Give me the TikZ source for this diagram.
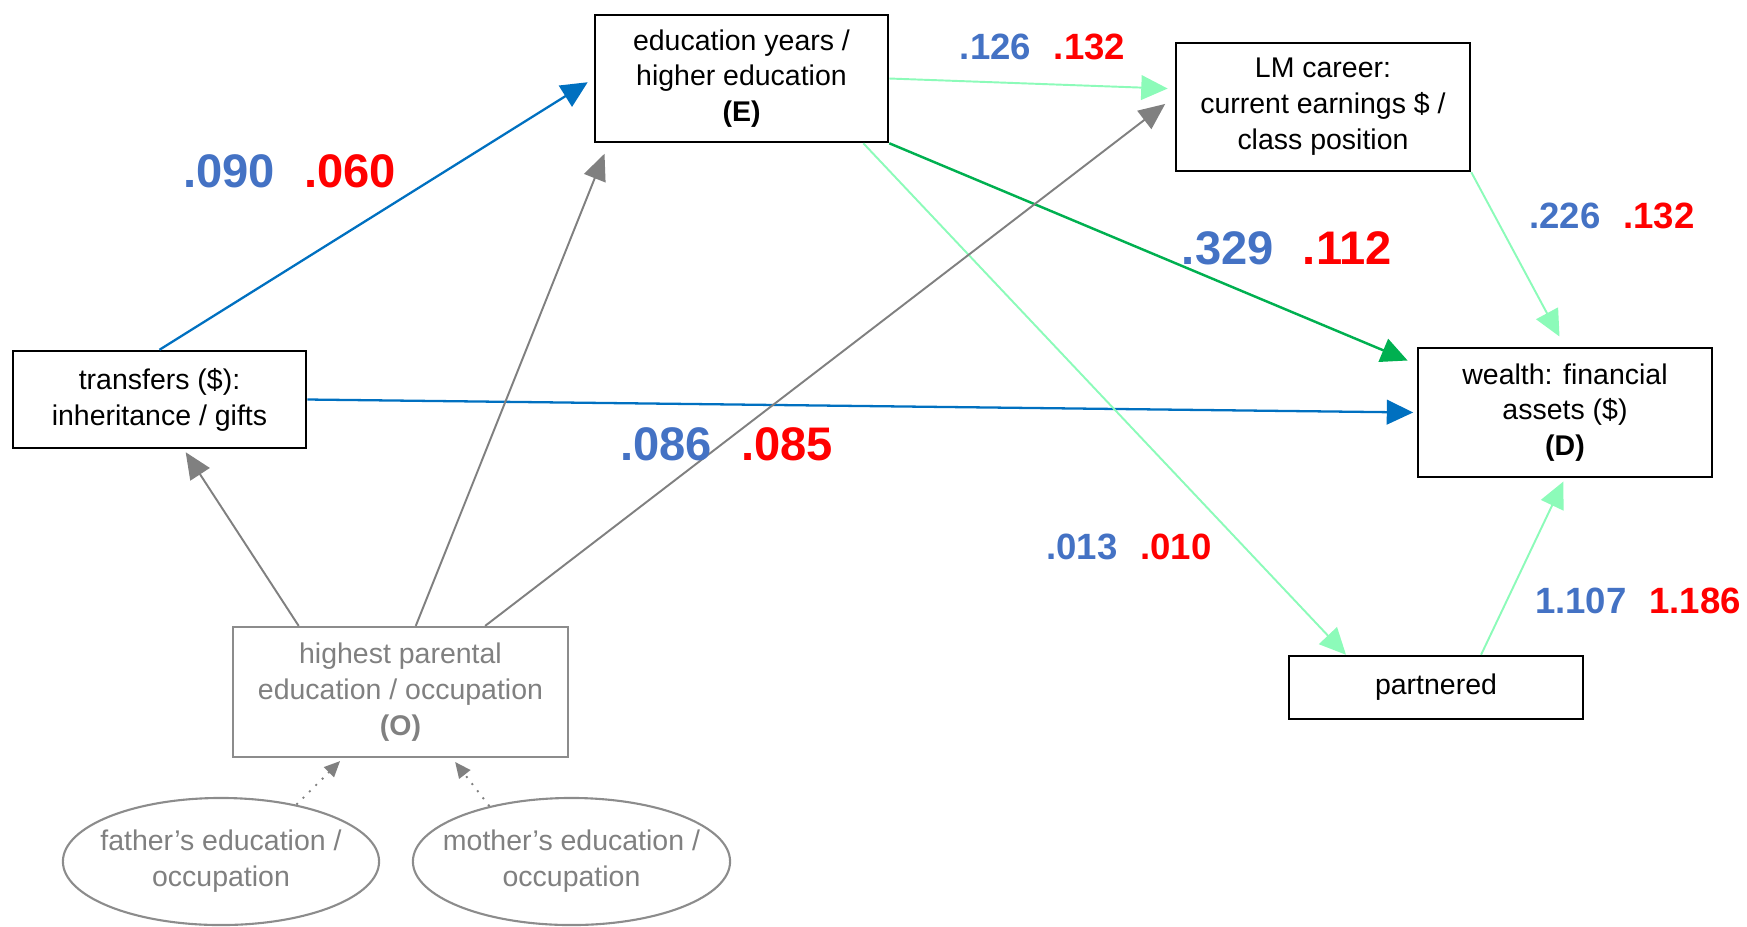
\documentclass[tikz,border=0pt]{standalone}
\usepackage{fontspec}
\setmainfont{Liberation Sans}
\usepackage{tikz}
\usetikzlibrary{shapes.geometric, arrows.meta}

\definecolor{arrowblue}{HTML}{0070C0}
\definecolor{darkgreen}{HTML}{00B050}
\definecolor{lightgreen}{HTML}{8CFBB9}
\definecolor{linegray}{HTML}{808080}
\definecolor{boxgray}{HTML}{8C8C8C}
\definecolor{coefblue}{HTML}{4472C4}
\definecolor{coefred}{HTML}{FF0000}

\newcommand{\boxfont}{\fontsize{8.1pt}{10.2pt}\selectfont}
\newcommand{\coef}[2]{\textcolor{coefblue}{#1}\hspace{0.62em}\textcolor{coefred}{#2}}

\tikzset{
	varbox/.style={draw=black, line width=0.7pt, rectangle, align=center, font=\boxfont, inner sep=0pt, minimum width=2.93cm},
	origbox/.style={draw=boxgray, line width=0.6pt, rectangle, align=center, font=\boxfont, text=linegray, inner sep=0pt},
	parentell/.style={draw=boxgray, line width=0.6pt, ellipse, align=center, font=\boxfont, text=linegray, inner xsep=-0.25cm, inner ysep=0pt},
	bluepath/.style={draw=arrowblue, line width=0.65pt, -{Triangle[length=7.5pt,width=7pt]}},
	greenpath/.style={draw=darkgreen, line width=0.7pt, -{Triangle[length=7.5pt,width=7pt]}},
	lightpath/.style={draw=lightgreen, line width=0.55pt, -{Triangle[length=7.5pt,width=7pt]}},
	graypath/.style={draw=linegray, line width=0.55pt, -{Triangle[length=7.5pt,width=6.5pt]}},
	dotpath/.style={draw=linegray, line width=0.55pt, dotted, -{Triangle[length=4.5pt,width=4pt]}},
	coefbig/.style={font=\bfseries\fontsize{13.4pt}{15pt}\selectfont, anchor=base, inner sep=0pt},
	coefmid/.style={font=\bfseries\fontsize{10.4pt}{12pt}\selectfont, anchor=base, inner sep=0pt}
}

\begin{document}
\begin{tikzpicture}[x=0.01cm, y=-0.01cm]
	\useasboundingbox (0,0) rectangle (1747,926);

	\node[varbox, minimum height=1.27cm] (educ) at (741.5,78.5) {education years /\\higher education\\\textbf{(E)}};
	\node[varbox, minimum width=2.94cm, minimum height=1.28cm] (career) at (1323,107) {LM career:\\current earnings \$ /\\class position};
	\node[varbox, minimum height=0.97cm] (transfer) at (159.5,399.5) {transfers (\$):\\inheritance / gifts};
	\node[varbox, minimum width=2.94cm, minimum height=1.29cm] (wealth) at (1565,412.5) {wealth: financial\\assets (\$)\\\textbf{(D)}};
	\node[varbox, minimum width=2.94cm, minimum height=0.63cm] (partner) at (1436,687.5) {partnered};
	\node[origbox, minimum width=3.35cm, minimum height=1.30cm] (origin) at (400.5,692) {highest parental\\education / occupation\\\textbf{(O)}};
	\node[parentell, minimum width=3.16cm, minimum height=1.27cm] (father) at (221,861.5) {father's education /\\occupation};
	\node[parentell, minimum width=3.17cm, minimum height=1.27cm] (mother) at (571.5,861.5) {mother's education /\\occupation};

	\draw[bluepath, shorten >=2pt] (transfer.north) -- (educ.west);
	\draw[bluepath, shorten >=1pt] (transfer.east) -- (wealth.west);
	\draw[lightpath, shorten >=2pt] (educ.east) -- (career.173);
	\draw[greenpath, shorten >=2.8pt] (educ.south east) -- (wealth.162);
	\draw[lightpath] (educ.-28.5) -- (partner.160.6);
	\draw[lightpath, shorten >=3.3pt] (career.south east) -- (wealth.north);
	\draw[lightpath, shorten >=1pt] (partner.36.9) -- (wealth.south);
	\draw[graypath, shorten >=1pt] (origin.147.9) -- (transfer.-64.6);
	\draw[graypath, shorten >=3.2pt] (origin.77.8) -- (educ.-154.2);
	\draw[graypath, shorten >=3.4pt] (origin.38.6) -- (career.176.7);
	\draw[dotpath, shorten >=1.2pt] (father.37.6) -- (origin.-131.6);
	\draw[dotpath, shorten >=1.4pt] (mother.146.8) -- (origin.-52.4);

	\node[coefbig] (c-te) at (289.5,187) {\coef{.090}{.060}};
	\node[coefmid] (c-ec) at (1042.5,59) {\coef{.126}{.132}};
	\node[coefbig] (c-ew) at (1287,264) {\coef{.329}{.112}};
	\node[coefmid] (c-cw) at (1612,228) {\coef{.226}{.132}};
	\node[coefbig] (c-oc) at (726.5,460) {\coef{.086}{.085}};
	\node[coefmid] (c-ep) at (1129,559) {\coef{.013}{.010}};
	\node[coefmid] (c-pw) at (1638,613) {\coef{1.107}{1.186}};
\end{tikzpicture}
\end{document}
